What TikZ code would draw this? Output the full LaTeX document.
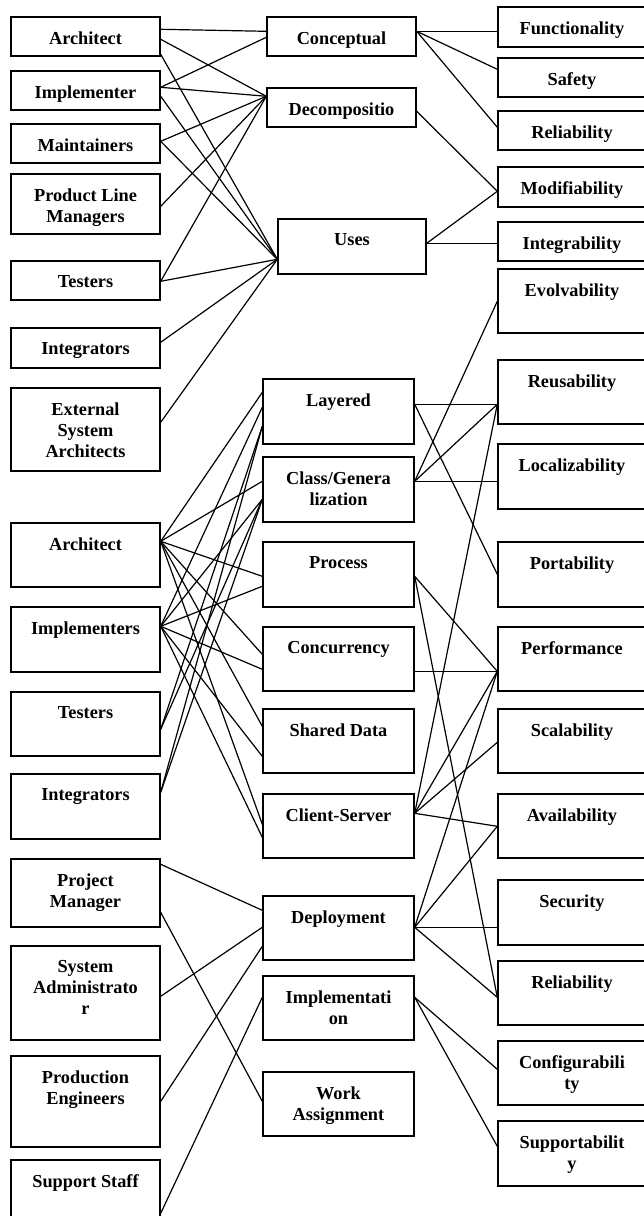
\documentclass[tikz,border=0pt]{standalone}
\usepackage{fontspec}
\setmainfont{Liberation Serif}
\tikzset{
  box/.style={draw, rectangle, line width=1.4pt, inner sep=0pt},
  lbl/.style={font=\bfseries\fontsize{18.3}{21}\selectfont, align=center, inner sep=0pt, anchor=north},
  conn/.style={line width=1.2pt}
}
\newcommand\mybox[6]{%
  \node[box, minimum width={#4-#2}, minimum height={#5-#3}] (#1) at ({(#2+#4)/2},{(#3+#5)/2}) {};
  \node[lbl] (#1-t) at ([yshift=-15pt]#1.north) {#6};}
\newcommand\myconn[4]{\draw[conn] ([yshift=-#2pt]#1.north east) -- ([yshift=-#4pt]#3.north west);}
\begin{document}
\begin{tikzpicture}[x=1pt,y=-1pt]
\fill[white] (0,0) rectangle (644,1216);
\useasboundingbox (0,0) rectangle (644,1216);
% left column
\mybox{la1}{11}{17}{160}{56}{Architect}
\mybox{la2}{11}{71}{160}{110}{Implementer}
\mybox{la3}{11}{124}{160}{163}{Maintainers}
\mybox{la4}{11}{174}{160}{234}{Product Line\\Managers}
\mybox{la5}{11}{261}{160}{300}{Testers}
\mybox{la6}{11}{328}{160}{368}{Integrators}
\mybox{la7}{11}{388}{160}{471}{External\\System\\Architects}
\mybox{lb1}{11}{523}{160}{587}{Architect}
\mybox{lb2}{11}{607}{160}{672}{Implementers}
\mybox{lb3}{11}{692}{160}{756}{Testers}
\mybox{lb4}{11}{774}{160}{839}{Integrators}
\mybox{lc1}{11}{859}{160}{927}{Project\\Manager}
\mybox{lc2}{11}{946}{160}{1040}{System\\Administrato\\r}
\mybox{lc3}{11}{1056}{160}{1147}{Production\\Engineers}
\mybox{lc4}{11}{1160}{160}{1225}{Support Staff}
% middle column
\mybox{ma1}{267}{17}{416}{56}{Conceptual}
\mybox{ma2}{267}{88}{416}{127}{Decompositio}
\mybox{ma3}{278}{219}{426}{274}{Uses}
\mybox{mb1}{263}{379}{414}{444}{Layered}
\mybox{mb2}{263}{457}{414}{522}{Class/Genera\\lization}
\mybox{mb3}{263}{542}{414}{607}{Process}
\mybox{mb4}{263}{627}{414}{691}{Concurrency}
\mybox{mb5}{263}{709}{414}{773}{Shared Data}
\mybox{mb6}{263}{794}{414}{858}{Client-Server}
\mybox{mc1}{263}{896}{414}{960}{Deployment}
\mybox{mc2}{263}{976}{414}{1040}{Implementati\\on}
\mybox{mc3}{263}{1072}{414}{1136}{Work\\Assignment}
% right column
\mybox{r1}{498}{7}{646}{47}{Functionality}
\mybox{r2}{498}{58}{646}{97}{Safety}
\mybox{r3}{498}{111}{646}{150}{Reliability}
\mybox{r4}{498}{167}{646}{207}{Modifiability}
\mybox{r5}{498}{222}{646}{261}{Integrability}
\mybox{r6}{498}{269}{646}{333}{Evolvability}
\mybox{r7}{498}{360}{646}{424}{Reusability}
\mybox{r8}{498}{444}{646}{509}{Localizability}
\mybox{r9}{498}{542}{646}{607}{Portability}
\mybox{r10}{498}{627}{646}{691}{Performance}
\mybox{r11}{498}{709}{646}{773}{Scalability}
\mybox{r12}{498}{794}{646}{858}{Availability}
\mybox{r13}{498}{880}{646}{945}{Security}
\mybox{r14}{498}{961}{646}{1025}{Reliability}
\mybox{r15}{498}{1041}{646}{1105}{Configurabili\\ty}
\mybox{r16}{498}{1121}{646}{1186}{Supportabilit\\y}
% top section: stakeholders -> views
\myconn{la1}{13}{ma1}{15}
\myconn{la1}{23}{ma2}{9}
\myconn{la1}{38}{ma3}{41}
\myconn{la2}{17}{ma1}{21}
\myconn{la2}{17}{ma2}{9}
\myconn{la2}{26}{ma3}{41}
\myconn{la3}{18}{ma2}{9}
\myconn{la3}{18}{ma3}{41}
\myconn{la4}{33}{ma2}{9}
\myconn{la5}{21}{ma2}{9}
\myconn{la5}{21}{ma3}{41}
\myconn{la6}{15}{ma3}{41}
\myconn{la7}{35}{ma3}{41}
% top section: views -> qualities
\myconn{ma1}{15}{r1}{25}
\myconn{ma1}{15}{r2}{12}
\myconn{ma1}{15}{r3}{17}
\myconn{ma2}{24}{r4}{25}
\myconn{ma3}{25}{r4}{25}
\myconn{ma3}{25}{r5}{22}
% middle section: stakeholders -> views
\myconn{lb1}{19}{mb1}{14}
\myconn{lb1}{19}{mb2}{25}
\myconn{lb1}{19}{mb3}{35}
\myconn{lb1}{19}{mb4}{28}
\myconn{lb1}{19}{mb5}{18}
\myconn{lb1}{19}{mb6}{31}
\myconn{lb2}{20}{mb1}{29}
\myconn{lb2}{20}{mb2}{43}
\myconn{lb2}{20}{mb3}{45}
\myconn{lb2}{20}{mb4}{43}
\myconn{lb2}{20}{mb5}{48}
\myconn{lb2}{20}{mb6}{44}
\myconn{lb3}{38}{mb1}{48}
\myconn{lb3}{38}{mb2}{43}
\myconn{lb4}{19}{mb1}{48}
\myconn{lb4}{19}{mb2}{43}
% middle section: views -> qualities
\myconn{mb1}{26}{r7}{45}
\myconn{mb1}{26}{r9}{33}
\myconn{mb2}{25}{r6}{33}
\myconn{mb2}{25}{r7}{45}
\myconn{mb2}{25}{r8}{38}
\myconn{mb3}{35}{r10}{45}
\myconn{mb3}{35}{r14}{37}
\myconn{mb4}{45}{r10}{45}
\myconn{mb6}{20}{r7}{45}
\myconn{mb6}{20}{r10}{45}
\myconn{mb6}{20}{r11}{34}
\myconn{mb6}{20}{r12}{33}
\myconn{mc1}{32}{r10}{45}
\myconn{mc1}{32}{r12}{33}
\myconn{mc1}{32}{r13}{48}
\myconn{mc1}{32}{r14}{37}
\myconn{mc2}{22}{r15}{29}
\myconn{mc2}{22}{r16}{26}
% bottom section: stakeholders -> views
\myconn{lc1}{6}{mc1}{15}
\myconn{lc1}{54}{mc3}{30}
\myconn{lc2}{51}{mc1}{32}
\myconn{lc3}{46}{mc1}{51}
\myconn{lc4}{54}{mc2}{22}
\end{tikzpicture}
\end{document}
